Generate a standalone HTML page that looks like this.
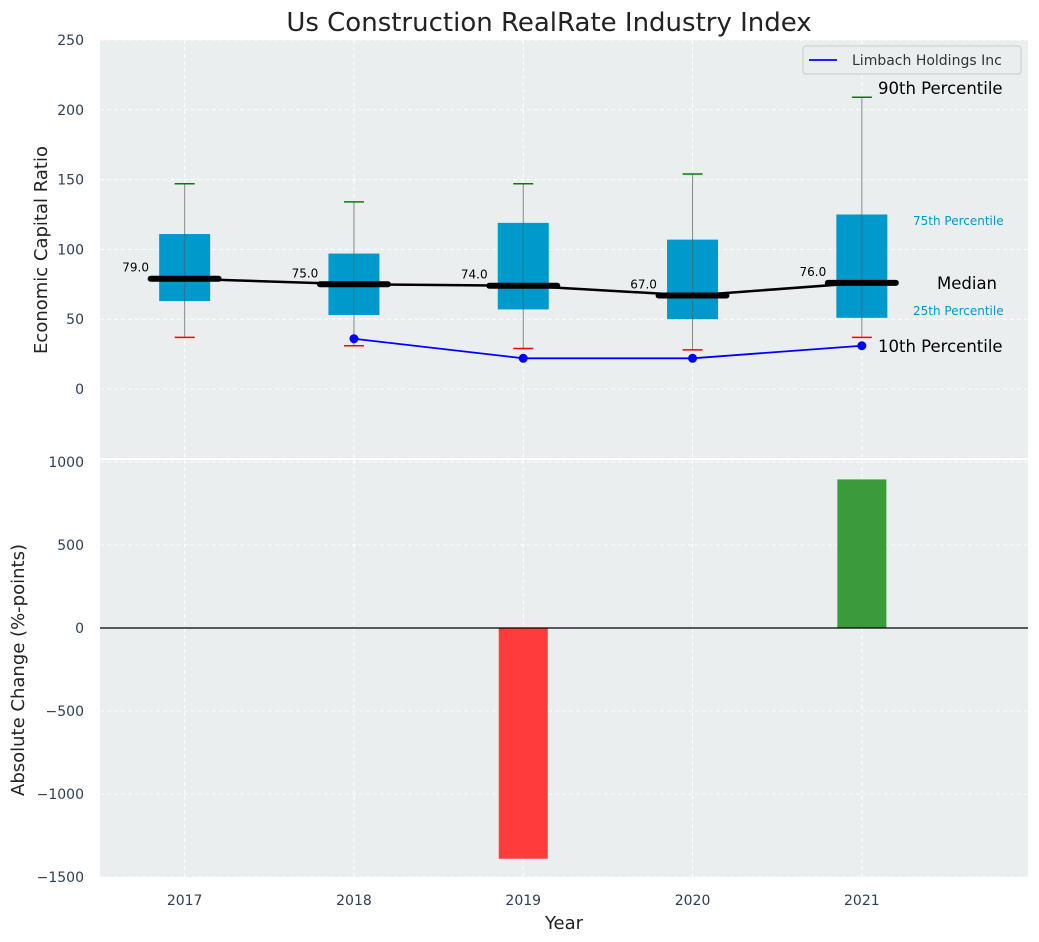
<!DOCTYPE html>
<html><head><meta charset="utf-8"><style>
body{margin:0;background:#fff;}
svg{display:block;font-family:"DejaVu Sans","Liberation Sans",sans-serif;}
</style></head><body>
<svg id="chart" width="1039" height="942" viewBox="0 0 1039 942"></svg>
<script>
const years=[2017,2018,2019,2020,2021];
const q1=[63,53,57,50,51];
const q3=[111,97,119,107,125];
const medians=[79,75,74,67,76];
const p10=[37,31,29,28,37];
const p90=[147,134,147,154,209];
const companyYears=[2018,2019,2020,2021];
const companyVals=[36,22,22,31];
const changeYears=[2019,2021];
const changeVals=[-1390,895];
const topTicks=[0,50,100,150,200,250];
const botTicks=[-1500,-1000,-500,0,500,1000];

const NS="http://www.w3.org/2000/svg";
const svg=document.getElementById('chart');
function el(t,a,txt){const e=document.createElementNS(NS,t);for(const k in a)e.setAttribute(k,a[k]);if(txt!==undefined)e.textContent=txt;svg.appendChild(e);return e;}
const X0=100,X1=1028;
const x=v=>X0+(v-2016.5)*169.3;
const yT=v=>389-v*1.396;
const yB=v=>628-v*0.166;

let r=el('rect',{x:X0,y:40,width:X1-X0,height:418,fill:'#eaeeee'});

r=el('rect',{x:X0,y:460,width:X1-X0,height:417,fill:'#eaeeee'});


topTicks.forEach(t=>{
  const g=el('line',{x1:X0,x2:X1,y1:yT(t),y2:yT(t),stroke:'#fff','stroke-dasharray':'4,3','stroke-width':1});
  
  const l=el('text',{x:84,y:yT(t)+5,'text-anchor':'end','font-size':14,fill:'#2e3e55'},t);
  
});
botTicks.forEach(t=>{
  const g=el('line',{x1:X0,x2:X1,y1:yB(t),y2:yB(t),stroke:'#fff','stroke-dasharray':'4,3','stroke-width':1});
  
  const l=el('text',{x:84,y:yB(t)+5,'text-anchor':'end','font-size':14,fill:'#2e3e55'},t.toString().replace('-','\u2212'));
  
});
years.forEach(yr=>{
  [[40,458],[460,877]].forEach(([a,b])=>{
    const g=el('line',{x1:x(yr),x2:x(yr),y1:a,y2:b,stroke:'#fff','stroke-dasharray':'4,3'});
    
  });
  const l=el('text',{x:x(yr),y:905,'text-anchor':'middle','font-size':14,fill:'#2e3e55'},yr);
  
});

years.forEach((yr,i)=>{
  const cx=x(yr);
  let w=el('line',{x1:cx,x2:cx,y1:yT(p90[i]),y2:yT(p10[i]),stroke:'#888','stroke-width':1});
  
  let b=el('rect',{x:cx-25.5,y:yT(q3[i]),width:51,height:yT(q1[i])-yT(q3[i]),fill:'#0099cc'});
  
  w=el('line',{x1:cx,x2:cx,y1:yT(q3[i]),y2:yT(q1[i]),stroke:'#555','stroke-width':1,opacity:0.5});
  
  let c=el('line',{x1:cx-10,x2:cx+10,y1:yT(p90[i]),y2:yT(p90[i]),stroke:'green','stroke-width':1.5});
  
  c=el('line',{x1:cx-10,x2:cx+10,y1:yT(p10[i]),y2:yT(p10[i]),stroke:'red','stroke-width':1.5});
  
});
let pl=el('polyline',{points:years.map((yr,i)=>x(yr)+','+yT(medians[i])).join(' '),fill:'none',stroke:'#000','stroke-width':2.5});

years.forEach((yr,i)=>{
  const m=el('line',{x1:x(yr)-34,x2:x(yr)+34,y1:yT(medians[i]),y2:yT(medians[i]),stroke:'#000','stroke-width':6,'stroke-linecap':'round'});
  
  const t=el('text',{x:x(yr)-49,y:yT(medians[i])-7,'text-anchor':'middle','font-size':12,fill:'#000'},medians[i].toFixed(1));
  
});
pl=el('polyline',{points:companyYears.map((yr,i)=>x(yr)+','+yT(companyVals[i])).join(' '),fill:'none',stroke:'blue','stroke-width':1.8});

companyYears.forEach((yr,i)=>{
  const p=el('circle',{cx:x(yr),cy:yT(companyVals[i]),r:4.5,fill:'blue'});
  
});
const ann=[['90th Percentile',878,94,16.5,'#000'],['75th Percentile',913,225,12,'#0099cc'],['Median',937,289,16.5,'#000'],['25th Percentile',913,315,12,'#0099cc'],['10th Percentile',878,352,16.5,'#000']];
ann.forEach(a=>{const t=el('text',{x:a[1],y:a[2],'font-size':a[3],fill:a[4]},a[0]);
});
let lg=el('rect',{x:803,y:46,width:218,height:28,fill:'#eaeeee',stroke:'#ccc',rx:3});

let ll=el('line',{x1:809,x2:837,y1:60,y2:60,stroke:'blue','stroke-width':1.8});

let lt=el('text',{x:852,y:65,'font-size':14,fill:'#333'},'Limbach Holdings Inc');


changeYears.forEach((yr,i)=>{
  const v=changeVals[i];
  const b=el('rect',{x:x(yr)-24.5,y:Math.min(yB(v),yB(0)),width:49,height:Math.abs(yB(v)-yB(0)),fill:v<0?'#ff3b3b':'#3a9b3a'});
  
});
let zl=el('line',{x1:X0,x2:X1,y1:yB(0),y2:yB(0),stroke:'#000','stroke-width':1.2});


let tt=el('text',{x:549,y:31,'text-anchor':'middle','font-size':26,fill:'#222'},'Us Construction RealRate Industry Index');

tt=el('text',{x:564,y:929,'text-anchor':'middle','font-size':18,fill:'#222'},'Year');

tt=el('text',{x:0,y:0,'text-anchor':'middle','font-size':18,fill:'#222',transform:'translate(47,250) rotate(-90)'},'Economic Capital Ratio');

tt=el('text',{x:0,y:0,'text-anchor':'middle','font-size':18,fill:'#222',transform:'translate(24,670) rotate(-90)'},'Absolute Change (%-points)');

</script>
</body></html>
